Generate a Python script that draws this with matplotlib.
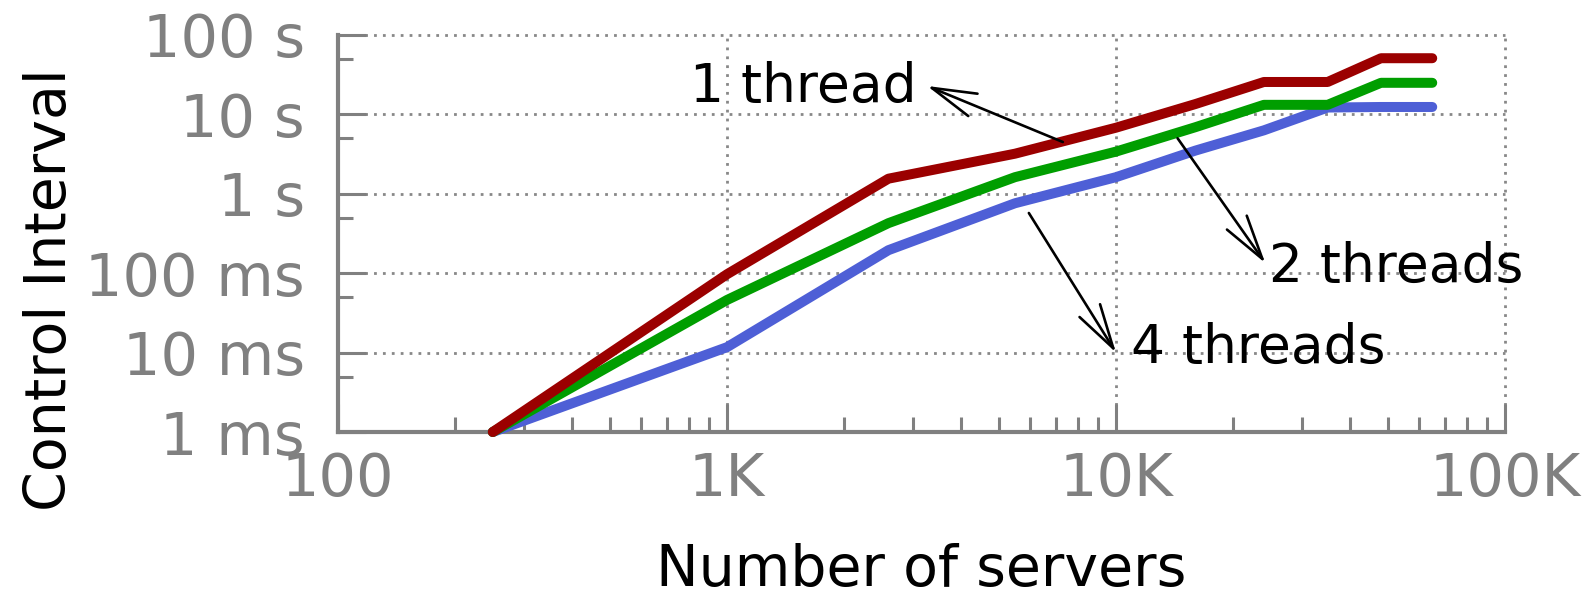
import matplotlib
matplotlib.use("Agg")
import matplotlib.pyplot as plt
from matplotlib.ticker import LogLocator, FixedLocator, FixedFormatter, NullFormatter

# Number of servers
servers = [250, 1000, 2600, 5500, 10000, 16000, 24000, 35000, 48000, 65000]

# Control interval in seconds
one_thread = [0.001, 0.097, 1.55, 3.2, 6.8, 13.5, 25.6, 25.6, 51.0, 51.0]
two_threads = [0.001, 0.046, 0.427, 1.62, 3.4, 6.9, 13.2, 13.2, 25.0, 25.0]
four_threads = [0.001, 0.0117, 0.195, 0.76, 1.62, 3.5, 6.3, 12.2, 12.4, 12.4]

x_ticks = [100, 1000, 10000, 100000]
x_tick_labels = ["100", "1K", "10K", "100K"]
y_ticks = [0.001, 0.01, 0.1, 1, 10, 100]
y_tick_labels = ["1 ms", "10 ms", "100 ms", "1 s", "10 s", "100 s"]

RED = "#9b0000"
GREEN = "#009e00"
BLUE = "#4e5fd6"
GRAY = "#808080"

plt.rcParams["font.family"] = ["DejaVu Sans"]

fig = plt.figure(figsize=(15.89, 5.95), dpi=100)
ax = fig.add_axes([338 / 1589, 1 - 432 / 595, 1167 / 1589, 397 / 595])
ax.set_xscale("log")
ax.set_yscale("log")
ax.set_xlim(100, 100000)
ax.set_ylim(0.001, 100)

line_kw = dict(linewidth=7.2, solid_capstyle="round", solid_joinstyle="round", clip_on=False)
ax.plot(servers, four_threads, color=BLUE, zorder=3, **line_kw)
ax.plot(servers, two_threads, color=GREEN, zorder=4, **line_kw)
ax.plot(servers, one_thread, color=RED, zorder=5, **line_kw)

# axes frame: solid left/bottom, dotted grid elsewhere
for side in ("top", "right"):
    ax.spines[side].set_visible(False)
for side in ("left", "bottom"):
    ax.spines[side].set_color(GRAY)
    ax.spines[side].set_linewidth(3)
    ax.spines[side].set_zorder(2)

ax.xaxis.set_major_locator(FixedLocator(x_ticks))
ax.xaxis.set_major_formatter(FixedFormatter(x_tick_labels))
ax.xaxis.set_minor_locator(LogLocator(base=10, subs=range(2, 10), numticks=20))
ax.xaxis.set_minor_formatter(NullFormatter())
ax.yaxis.set_major_locator(FixedLocator(y_ticks))
ax.yaxis.set_major_formatter(FixedFormatter(y_tick_labels))
ax.yaxis.set_minor_locator(LogLocator(base=10, subs=[5], numticks=20))
ax.yaxis.set_minor_formatter(NullFormatter())

ax.tick_params(which="both", direction="in", color=GRAY, width=2.2,
               top=False, right=False)
ax.tick_params(which="major", length=20, labelsize=42.5, labelcolor=GRAY)
ax.tick_params(axis="y", which="major", pad=24)
ax.tick_params(axis="x", which="major", pad=14)
ax.tick_params(which="minor", length=11)

ax.grid(True, which="major", color="#888888", linewidth=2.0,
        linestyle=(0, (1, 2.2)))
for gl in ax.get_xgridlines() + ax.get_ygridlines():
    gl.set_clip_on(False)
ax.set_axisbelow(True)

fig.text(921 / 1589, 1 - 586 / 595, "Number of servers", fontsize=41,
         ha="center", va="baseline", color="black")
fig.text(51 / 1589, 1 - 290 / 595, "Control Interval", fontsize=41,
         rotation=90, ha="center", va="center", color="black")

arrow_kw = dict(arrowstyle="->,head_length=3.2,head_width=0.87", color="black",
                lw=1.9, shrinkA=0, shrinkB=0, mutation_scale=10)

ax.text(3080, 14.3, "1 thread", fontsize=38.5, ha="right", va="baseline", zorder=6)
ax.annotate("", xy=(3270, 22.8), xytext=(7300, 4.49), arrowprops=arrow_kw,
            zorder=6)

ax.text(24700, 0.0774, "2 threads", fontsize=38.5, ha="left", va="baseline", zorder=6)
ax.annotate("", xy=(24200, 0.134), xytext=(14400, 5.0), arrowprops=arrow_kw,
            zorder=6)

ax.text(10900, 0.0074, "4 threads", fontsize=38.5, ha="left", va="baseline", zorder=6)
ax.annotate("", xy=(10000, 0.0100), xytext=(5970, 0.573), arrowprops=arrow_kw,
            zorder=6)

fig.savefig("out.png", dpi=100)
